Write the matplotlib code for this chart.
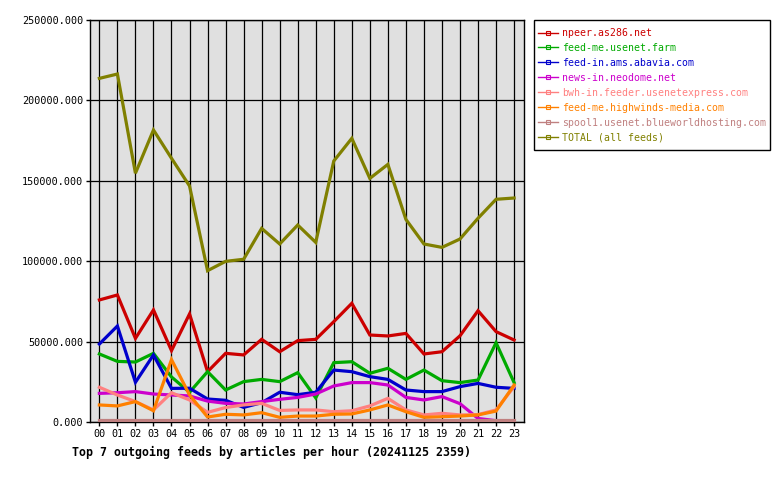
import matplotlib
matplotlib.use("Agg")
import matplotlib.pyplot as plt
from matplotlib.lines import Line2D
from matplotlib.patches import Rectangle

hours = [f"{h:02d}" for h in range(24)]

npeer = [75900, 79000, 52000, 69700, 44400, 67200, 31300, 42700, 41700, 51400, 43700, 50600,
         51400, 62400, 73800, 54100, 53500, 55100, 42300, 43700, 53600, 69200, 56200, 51000]
usenet_farm = [42300, 37700, 37300, 42700, 28000, 18500, 31300, 19900, 25100, 26500, 25100, 30700,
               15000, 36900, 37500, 30300, 33400, 26500, 32300, 25700, 24500, 26100, 49300, 24500]
abavia = [48500, 59700, 24700, 41700, 20900, 21000, 14300, 13500, 9100, 12000, 18500, 17000,
          18500, 32300, 31300, 28200, 26500, 19900, 18900, 18900, 22000, 24000, 21600, 20900]
neodome = [17800, 18200, 18900, 17400, 16800, 16200, 13000, 11600, 11200, 12700, 14100, 15300,
           17400, 22400, 24500, 24500, 23000, 15300, 13700, 15800, 11400, 2200, 800, 800]
usenetexpress = [21600, 16800, 12700, 7500, 18200, 13700, 6000, 9000, 10600, 11600, 7200, 7500,
                 7500, 6400, 7000, 10000, 14700, 7500, 4400, 5400, 4400, 4600, 7500, 22000]
highwinds = [10600, 10000, 12700, 7000, 38800, 16800, 3100, 4800, 4400, 5800, 2900, 3700,
             3700, 4800, 5000, 7500, 10600, 6400, 2900, 3300, 3700, 4400, 6800, 23000]
blueworld = [1000] * 24
total = [213700, 216400, 154700, 181600, 164000, 146800, 94100, 99900, 101200, 120400, 110700, 122500,
         111700, 162300, 176400, 151500, 160200, 126000, 110700, 108600, 113800, 126700, 138500, 139300]

names = ["npeer.as286.net", "feed-me.usenet.farm", "feed-in.ams.abavia.com", "news-in.neodome.net",
         "bwh-in.feeder.usenetexpress.com", "feed-me.highwinds-media.com",
         "spool1.usenet.blueworldhosting.com", "TOTAL (all feeds)"]
series = [npeer, usenet_farm, abavia, neodome, usenetexpress, highwinds, blueworld, total]
colors = ["#cc0000", "#00aa00", "#0000cc", "#cc00cc", "#ff8080", "#ff8000", "#c08080", "#808000"]

title = "Top 7 outgoing feeds by articles per hour (20241125 2359)"
yticks = [0, 50000, 100000, 150000, 200000, 250000]

mono = ["DejaVu Sans Mono"]
W, H = 780, 480

fig = plt.figure(figsize=(7.8, 4.8), dpi=100)
ax = fig.add_axes([90 / W, 58 / H, 434 / W, 402 / H])
ax.set_facecolor("#e0e0e0")

x = list(range(len(hours)))
for s, c in zip(series, colors):
    ax.plot(x, s, color=c, lw=2.3, solid_joinstyle="miter", zorder=3)

ax.set_xlim(-0.52, 23.55)
ax.set_ylim(0, 250000)
ax.set_xticks(x)
ax.set_xticklabels(hours, family=mono, fontsize=7.3)
ax.set_yticks(yticks)
ax.set_yticklabels([f"{v:.3f}" for v in yticks], family=mono, fontsize=7.3)
ax.grid(True, color="black", lw=0.9, zorder=1)
ax.set_axisbelow(True)
for sp in ax.spines.values():
    sp.set_color("black")
    sp.set_linewidth(1.0)
ax.tick_params(axis="both", direction="out", length=3, width=1, colors="black", pad=2)

# legend frame drawn manually for exact placement
fig.patches.append(Rectangle((534 / W, 1 - 150 / H), 236 / W, 130 / H, transform=fig.transFigure,
                             facecolor="white", edgecolor="black", lw=1.0, zorder=0))

handles = [Line2D([0], [0], color=c, lw=1.0, marker="s", markersize=2.5,
                  markerfacecolor="none", markeredgecolor=c, markeredgewidth=0.8)
           for c in colors]
leg = fig.legend(handles, names, loc="upper left", bbox_to_anchor=(538 / W, 1 - 28 / H),
                 prop={"family": mono, "size": 7.1}, frameon=False,
                 borderaxespad=0, handlelength=2.0, handletextpad=0.4,
                 labelspacing=0.5, borderpad=0)
for t, c in zip(leg.get_texts(), colors):
    t.set_color(c)

fig.text(72 / W, 1 - 452 / H, title, family=mono, fontsize=8.4, fontweight="bold",
         ha="left", va="center")

fig.savefig("out.png", dpi=100, facecolor="white")
